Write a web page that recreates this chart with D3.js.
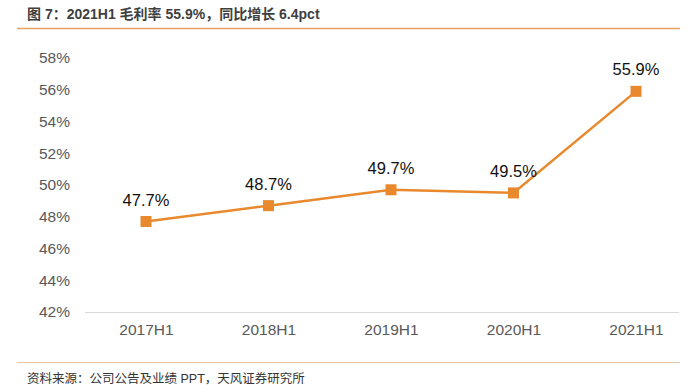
<!DOCTYPE html>
<html>
<head>
<meta charset="utf-8">
<script src="https://cdn.jsdelivr.net/npm/d3@7"></script>
<style>
  body { margin: 0; background: #fff; }
  svg text { font-family: "Liberation Sans", Arial, "Noto Sans CJK SC", sans-serif; }
</style>
</head>
<body>
<div id="chart"></div>
<script>
// data
var categories = ["2017H1", "2018H1", "2019H1", "2020H1", "2021H1"];
var grossMargin = [47.7, 48.7, 49.7, 49.5, 55.9];
var yTicks = [42, 44, 46, 48, 50, 52, 54, 56, 58];
var titleText = "图 7：2021H1 毛利率 55.9%，同比增长 6.4pct";
var sourceText = "资料来源：公司公告及业绩 PPT，天风证券研究所";

var W = 700, H = 392;
var orange = "#E8892E";

var svg = d3.select("#chart").append("svg")
    .attr("width", W).attr("height", H);

// header
svg.append("text")
    .attr("x", 27).attr("y", 19)
    .attr("font-size", 14).attr("font-weight", "bold")
    .attr("fill", "#3f3f3f")
    .attr("font-family", "'Noto Sans CJK SC', sans-serif")
    .text(titleText);
svg.append("line")
    .attr("x1", 17).attr("x2", 680).attr("y1", 28.5).attr("y2", 28.5)
    .attr("stroke", "#E9A060").attr("stroke-width", 1.5);

// footer
svg.append("line")
    .attr("x1", 17).attr("x2", 680).attr("y1", 362.5).attr("y2", 362.5)
    .attr("stroke", "#EBC6A2").attr("stroke-width", 1.2);
svg.append("text")
    .attr("x", 27).attr("y", 383)
    .attr("font-size", 12.5)
    .attr("fill", "#333")
    .attr("font-family", "'Noto Sans CJK SC', sans-serif")
    .text(sourceText);

// scales
var x = d3.scalePoint().domain(categories).range([146, 636]);
var y = d3.scaleLinear().domain([42, 58]).range([312, 58]);

// y axis labels (no line)
var yAxis = svg.append("g")
    .attr("transform", "translate(70,0)")
    .call(d3.axisLeft(y).tickValues(yTicks).tickSize(0).tickPadding(0)
        .tickFormat(function(d){ return d + "%"; }));
yAxis.select(".domain").remove();
yAxis.selectAll("text")
    .attr("font-size", 15.5).attr("fill", "#595959")
    .attr("font-family", "'Liberation Sans', Arial, sans-serif");

// x axis
var xAxis = svg.append("g")
    .attr("transform", "translate(0,312)")
    .call(d3.axisBottom(x).tickSize(0).tickPadding(12));
xAxis.select(".domain").remove();
xAxis.selectAll("text")
    .attr("font-size", 15.5).attr("fill", "#595959")
    .attr("font-family", "'Liberation Sans', Arial, sans-serif");
svg.append("line")
    .attr("x1", 85).attr("x2", 679).attr("y1", 312.5).attr("y2", 312.5)
    .attr("stroke", "#d9d9d9").attr("stroke-width", 1);

// line
var line = d3.line()
    .x(function(d, i){ return x(categories[i]); })
    .y(function(d){ return y(d); });
svg.append("path")
    .datum(grossMargin)
    .attr("d", line)
    .attr("fill", "none")
    .attr("stroke", orange)
    .attr("stroke-width", 2.5);

// markers
var ms = 11;
svg.selectAll(".marker")
    .data(grossMargin)
    .enter()
    .append("rect")
    .attr("class", "marker")
    .attr("x", function(d, i){ return x(categories[i]) - ms / 2; })
    .attr("y", function(d){ return y(d) - ms / 2; })
    .attr("width", ms).attr("height", ms)
    .attr("fill", orange);

// value labels
svg.selectAll(".vlabel")
    .data(grossMargin)
    .enter()
    .append("text")
    .attr("class", "vlabel")
    .attr("x", function(d, i){ return x(categories[i]); })
    .attr("y", function(d){ return y(d) - 16; })
    .attr("text-anchor", "middle")
    .attr("font-size", 16.5).attr("fill", "#111")
    .attr("font-family", "'Liberation Sans', Arial, sans-serif")
    .text(function(d){ return d.toFixed(1) + "%"; });
</script>
</body>
</html>
